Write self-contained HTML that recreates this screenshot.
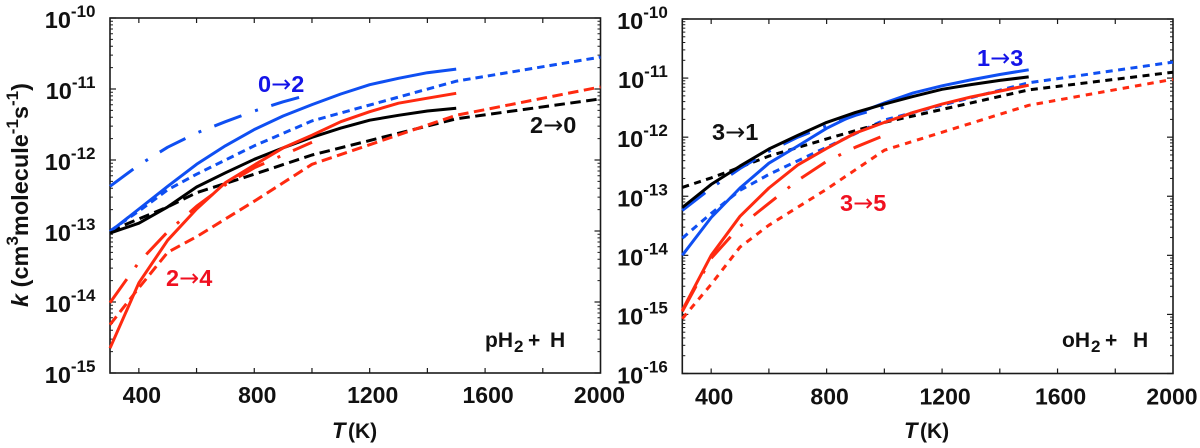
<!DOCTYPE html>
<html>
<head>
<meta charset="utf-8">
<style>
html,body{margin:0;padding:0;background:#fff;width:1200px;height:448px;overflow:hidden}
svg{display:block;font-family:"Liberation Sans",Arial,sans-serif;font-weight:bold}
.arr{font-family:"DejaVu Sans",sans-serif;font-weight:normal;font-size:24px}
</style>
</head>
<body>
<svg id="chart" xmlns="http://www.w3.org/2000/svg" width="1200" height="448" viewBox="0 0 1200 448">
  <g>
    <text transform="translate(28,195) rotate(-90)" text-anchor="middle" font-size="23.5" fill="#111"><tspan font-style="italic">k</tspan> (cm<tspan font-size="17" dy="-10">3</tspan><tspan dy="10">molecule</tspan><tspan font-size="17" dy="-10">-1</tspan><tspan dy="10">s</tspan><tspan font-size="17" dy="-10">-1</tspan><tspan dy="10">)</tspan></text>
  </g>
  <text y="438" fill="#111"><tspan x="332" font-size="22" font-style="italic">T</tspan><tspan x="348" font-size="21">(K)</tspan></text>
  <text y="438" fill="#111"><tspan x="904" font-size="22" font-style="italic">T</tspan><tspan x="920" font-size="21">(K)</tspan></text>
  <g id="panel-left"></g>
  <g id="panel-right"></g>
  <text x="258" y="92" font-size="23.5" fill="#1414e8">0<tspan class="arr">→</tspan>2</text>
  <text x="530" y="133" font-size="23.5" fill="#111">2<tspan class="arr">→</tspan>0</text>
  <text x="166" y="286" font-size="23.5" fill="#f01020">2<tspan class="arr">→</tspan>4</text>
  <text x="977" y="66" font-size="23.5" fill="#1414e8">1<tspan class="arr">→</tspan>3</text>
  <text x="712" y="140" font-size="23.5" fill="#111">3<tspan class="arr">→</tspan>1</text>
  <text x="840" y="211" font-size="23.5" fill="#f01020">3<tspan class="arr">→</tspan>5</text>
  <text y="347" font-size="21" fill="#111"><tspan x="485">pH</tspan><tspan x="514" font-size="17" dy="5">2</tspan><tspan x="528" dy="-5">+</tspan><tspan x="550">H</tspan></text>
  <text y="347" font-size="21" fill="#111"><tspan x="1062">oH</tspan><tspan x="1091" font-size="17" dy="5">2</tspan><tspan x="1105" dy="-5">+</tspan><tspan x="1133">H</tspan></text>
</svg>
<script>
// Temperature grids (K)
var tempsSolid = [300,400,500,600,700,800,900,1000,1100,1200,1300,1400,1500];
var tempsDashed = [300,400,500,600,800,1000,1500,2000];
var tempsDashDot = [300,400,500,600,700,800,900,1000];

// Left panel: log10 k (para-H2)
var leftBlueDashed = [-13.00,-12.72,-12.42,-12.20,-11.80,-11.45,-10.89,-10.55];
var leftBlackDashed = [-13.00,-12.83,-12.66,-12.46,-12.20,-11.93,-11.42,-11.14];
var leftRedDashed = [-14.32,-13.80,-13.30,-13.08,-12.58,-12.06,-11.37,-10.97];
var leftBlueDashDot = [-12.37,-12.07,-11.82,-11.62,-11.46,-11.31,-11.18,-11.07];
var leftRedDashDot = [-14.01,-13.44,-13.01,-12.65,-12.35,-12.11,-11.93,-11.75];
var leftBlueSolid = [-13.01,-12.69,-12.37,-12.06,-11.80,-11.57,-11.38,-11.22,-11.07,-10.94,-10.85,-10.77,-10.72];
var leftBlackSolid = [-13.03,-12.89,-12.66,-12.38,-12.18,-11.99,-11.83,-11.68,-11.55,-11.44,-11.37,-11.31,-11.27];
var leftRedSolid = [-14.65,-13.73,-13.13,-12.69,-12.32,-12.07,-11.83,-11.65,-11.46,-11.32,-11.20,-11.13,-11.06];

// Right panel: log10 k (ortho-H2)
var rightRedDashed = [-15.07,-14.49,-13.86,-13.49,-12.88,-12.22,-11.46,-11.02];
var rightBlueDashed = [-13.71,-13.29,-12.90,-12.63,-12.17,-11.71,-11.08,-10.73];
var rightBlackDashed = [-12.85,-12.69,-12.51,-12.32,-12.03,-11.75,-11.20,-10.90];
var rightBlueDashDot = [-13.24,-12.86,-12.53,-12.24,-12.00,-11.81,-11.63,-11.49];
var rightRedDashDot = [-14.95,-14.05,-13.51,-13.12,-12.73,-12.41,-12.17,-11.97];
var rightBlueSolid = [-14.00,-13.36,-12.86,-12.44,-12.15,-11.85,-11.61,-11.42,-11.25,-11.13,-11.03,-10.94,-10.86];
var rightBlackSolid = [-13.19,-12.80,-12.49,-12.20,-11.97,-11.75,-11.58,-11.44,-11.31,-11.19,-11.11,-11.04,-10.98];
var rightRedSolid = [-14.93,-14.00,-13.34,-12.86,-12.47,-12.19,-11.93,-11.75,-11.58,-11.44,-11.32,-11.22,-11.12];

// Tick labels
var xTickValues = [400,600,800,1000,1200,1400,1600,1800];
var xLabelValues = [400,800,1200,1600,2000];
var leftDecades = [-10,-11,-12,-13,-14,-15];
var rightDecades = [-10,-11,-12,-13,-14,-15,-16];

var NS = 'http://www.w3.org/2000/svg';
var BLUE = '#0f4ff2', RED = '#ff2a10', BLACK = '#000';
var SOLID = '', LONGDOT = '29 14.5 3 14';

function makePanel(id, left, right, top, bottom, yMax, yMin, labelDrop) {
  return {
    g: document.getElementById(id),
    left: left, right: right, top: top, bottom: bottom, labelDrop: labelDrop,
    x: function (t) { return left + (t - 300) / 1700 * (right - left); },
    y: function (v) { return top + (yMax - v) / (yMax - yMin) * (bottom - top); }
  };
}

function addLine(p, x1, y1, x2, y2, w, name) {
  var l = document.createElementNS(NS, 'line');
  
  
  l.setAttribute('x1', x1);
  l.setAttribute('y1', y1);
  l.setAttribute('x2', x2);
  l.setAttribute('y2', y2);
  l.setAttribute('stroke', '#1a1a1a');
  l.setAttribute('stroke-width', w);
  p.g.appendChild(l);
}

function drawSeries(p, name, temps, values, color, dash, width) {
  var pts = [];
  for (var i = 0; i < temps.length; i++) {
    pts.push(p.x(temps[i]).toFixed(1) + ',' + p.y(values[i]).toFixed(1));
  }
  var s = document.createElementNS(NS, 'polyline');
  
  
  s.setAttribute('points', pts.join(' '));
  s.setAttribute('fill', 'none');
  s.setAttribute('stroke', color);
  s.setAttribute('stroke-width', width);
  s.setAttribute('stroke-linejoin', 'round');
  if (dash) s.setAttribute('stroke-dasharray', dash);
  p.g.appendChild(s);
}

function drawAxes(p, decades) {
  var box = document.createElementNS(NS, 'rect');
  
  
  box.setAttribute('x', p.left);
  box.setAttribute('y', p.top);
  box.setAttribute('width', p.right - p.left);
  box.setAttribute('height', p.bottom - p.top);
  box.setAttribute('fill', 'none');
  box.setAttribute('stroke', '#1a1a1a');
  box.setAttribute('stroke-width', 1.6);
  p.g.appendChild(box);

  xTickValues.forEach(function (t) {
    var x = p.x(t);
    addLine(p, x, p.bottom, x, p.bottom - 5, 1.2, 'x-tick-bottom');
    addLine(p, x, p.top, x, p.top + 5, 1.2, 'x-tick-top');
  });
  xLabelValues.forEach(function (t) {
    var tx = document.createElementNS(NS, 'text');
    
    
    tx.setAttribute('x', p.x(t) + (t < 2000 ? 3 : -1));
    tx.setAttribute('y', p.bottom + p.labelDrop);
    tx.setAttribute('text-anchor', 'middle');
    tx.setAttribute('font-size', '23');
    tx.setAttribute('fill', '#111');
    tx.textContent = t;
    p.g.appendChild(tx);
  });
  decades.forEach(function (d, idx) {
    var y = p.y(d);
    addLine(p, p.left, y, p.left + 6, y, 1.2, 'y-tick-left');
    addLine(p, p.right, y, p.right - 6, y, 1.2, 'y-tick-right');
    if (idx < decades.length - 1) {
      for (var m = 2; m < 10; m++) {
        var ym = p.y(d - 1 + Math.log10(m));
        addLine(p, p.left, ym, p.left + 3, ym, 1, 'y-minor-tick-left');
        addLine(p, p.right, ym, p.right - 3, ym, 1, 'y-minor-tick-right');
      }
    }
    var lb = document.createElementNS(NS, 'text');
    
    
    lb.setAttribute('x', p.left - 14.5);
    lb.setAttribute('y', y + 10);
    lb.setAttribute('text-anchor', 'end');
    lb.setAttribute('font-size', '23.5');
    lb.setAttribute('fill', '#111');
    var base = document.createElementNS(NS, 'tspan');
    base.textContent = '10';
    lb.appendChild(base);
    var ex = document.createElementNS(NS, 'tspan');
    ex.setAttribute('font-size', '17');
    ex.setAttribute('dy', '-11');
    ex.textContent = String(d);
    lb.appendChild(ex);
    p.g.appendChild(lb);
  });
}

var pL = makePanel('panel-left', 110, 600.5, 18, 373, -10, -15, 30);
var pR = makePanel('panel-right', 682.3, 1173, 19, 373.5, -10, -16, 31);

drawAxes(pL, leftDecades);
drawAxes(pR, rightDecades);

drawSeries(pL, 'series-0-2-dashed', tempsDashed, leftBlueDashed, BLUE, '7.5 5', 3);
drawSeries(pL, 'series-2-0-dashed', tempsDashed, leftBlackDashed, BLACK, '10.5 5.5', 3);
drawSeries(pL, 'series-2-4-dashed', tempsDashed, leftRedDashed, RED, '10.5 5.5', 3);
drawSeries(pL, 'series-0-2-dashdot', tempsDashDot, leftBlueDashDot, BLUE, LONGDOT, 3);
drawSeries(pL, 'series-2-4-dashdot', tempsDashDot, leftRedDashDot, RED, LONGDOT, 3);
drawSeries(pL, 'series-0-2-solid', tempsSolid, leftBlueSolid, BLUE, SOLID, 3);
drawSeries(pL, 'series-2-0-solid', tempsSolid, leftBlackSolid, BLACK, SOLID, 3);
drawSeries(pL, 'series-2-4-solid', tempsSolid, leftRedSolid, RED, SOLID, 3);

drawSeries(pR, 'series-3-5-dashed', tempsDashed, rightRedDashed, RED, '6.5 6', 3);
drawSeries(pR, 'series-1-3-dashed', tempsDashed, rightBlueDashed, BLUE, '7 5.5', 3);
drawSeries(pR, 'series-3-1-dashed', tempsDashed, rightBlackDashed, BLACK, '7 5.5', 3);
drawSeries(pR, 'series-1-3-dashdot', tempsDashDot, rightBlueDashDot, BLUE, LONGDOT, 3);
drawSeries(pR, 'series-3-5-dashdot', tempsDashDot, rightRedDashDot, RED, LONGDOT, 3);
drawSeries(pR, 'series-1-3-solid', tempsSolid, rightBlueSolid, BLUE, SOLID, 3);
drawSeries(pR, 'series-3-1-solid', tempsSolid, rightBlackSolid, BLACK, SOLID, 3);
drawSeries(pR, 'series-3-5-solid', tempsSolid, rightRedSolid, RED, SOLID, 3);
</script>
</body>
</html>
